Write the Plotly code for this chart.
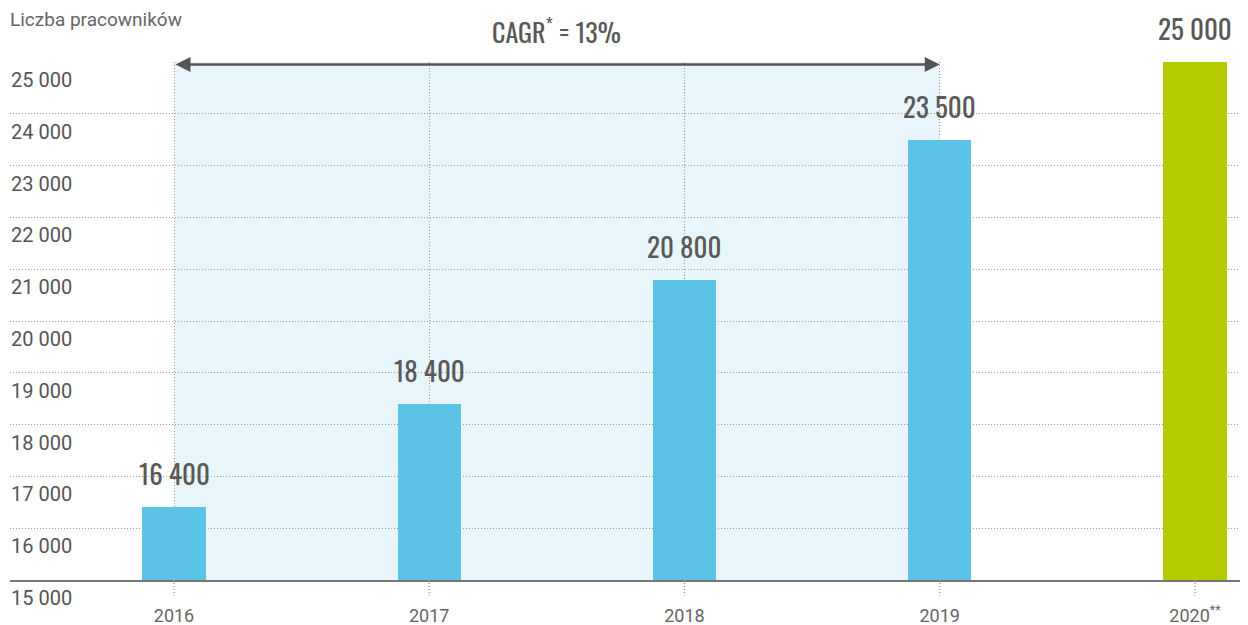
import plotly.graph_objects as go

years = ["2016", "2017", "2018", "2019", "2020**"]
values = [16400, 18400, 20800, 23500, 25000]
bar_colors = ["#5BC3E5", "#5BC3E5", "#5BC3E5", "#5BC3E5", "#B3CB00"]
y_ticks = list(range(15000, 25001, 1000))
y_tick_labels = [f"{v:,}".replace(",", " ") for v in y_ticks]
x_tick_labels = ["2016", "2017", "2018", "2019", "2020<sup>**</sup>"]
cagr_text = "CAGR<sup>*</sup> = 13%"
y_title = "Liczba pracowników"

xs = list(range(len(years)))
TXT = "#595959"
COND = "Oswald, Roboto Condensed, sans-serif"
GRID = "#9a9a9a"
YRANGE = [y_ticks[0], y_ticks[-1]]

fig = go.Figure()
fig.add_trace(go.Bar(x=xs, y=values, marker=dict(color=bar_colors, line=dict(width=0)),
                     width=0.247, hoverinfo="skip"))
# invisible trace carrying the label axis
fig.add_trace(go.Scatter(x=xs, y=values, yaxis="y2", mode="none", hoverinfo="skip"))

# shaded CAGR region (2016 -> 2019)
fig.add_shape(type="rect", xref="x", yref="y", x0=xs[0], x1=xs[3], y0=YRANGE[0], y1=YRANGE[1],
              fillcolor="#E8F6FB", line=dict(width=0), layer="below")

# dotted tick marks below axis
for x in xs:
    fig.add_shape(type="line", xref="x", yref="paper", x0=x, x1=x, y0=0, y1=-0.03,
                  line=dict(color=GRID, width=1.5, dash="1px,2px"))

# bar value labels
for x, v in zip(xs, values):
    fig.add_annotation(x=x, y=v, xref="x", yref="y", text=f"{v:,}".replace(",", " "),
                       showarrow=False, yanchor="bottom", yshift=12,
                       font=dict(family=COND, size=27, color=TXT))

# CAGR arrow
fig.add_annotation(x=xs[3], y=24950, ax=xs[0], ay=24950, xref="x", yref="y", axref="x", ayref="y",
                   text="", showarrow=True, arrowhead=2, startarrowhead=2, arrowside="end+start",
                   arrowsize=1.2, startarrowsize=1.2, arrowwidth=2.5, arrowcolor="#555555")
fig.add_annotation(x=(xs[0] + xs[3]) / 2, y=1, xref="x", yref="paper", yshift=32,
                   text=cagr_text, showarrow=False, yanchor="middle",
                   font=dict(family=COND, size=26, color=TXT))
fig.add_annotation(x=0, y=1, xref="paper", yref="paper", xanchor="left", yanchor="middle",
                   xshift=-2, yshift=43, text=y_title, showarrow=False,
                   font=dict(family="Roboto, sans-serif", size=19, color="#666666"))

fig.update_layout(
    width=1240, height=617,
    margin=dict(l=2, r=0, t=54, b=45),
    plot_bgcolor="white", paper_bgcolor="white",
    showlegend=False,
    bargap=0,
    yaxis2=dict(overlaying="y", side="right", anchor="free", position=0, range=YRANGE,
                tickmode="array", tickvals=y_ticks, ticktext=y_tick_labels,
                showgrid=False, zeroline=False, showline=False, ticks="",
                ticklabelposition="outside", ticklabelshift=18, ticklabelstandoff=0,
                tickfont=dict(family="Roboto, sans-serif", size=20, color="#555555")),
)
fig.update_xaxes(range=[-0.6425, 4.2077], tickmode="array", tickvals=xs, ticktext=x_tick_labels,
                 showgrid=True, gridcolor=GRID, griddash="1px,2px", gridwidth=1,
                 showline=True, linecolor="#777777", linewidth=2, zeroline=False,
                 ticks="", ticklabelstandoff=18,
                 tickfont=dict(family="Roboto, sans-serif", size=18, color="#666666"))
fig.layout.yaxis.update(range=YRANGE, tickmode="array", tickvals=y_ticks,
                        showgrid=True, gridcolor=GRID, griddash="1px,2px", gridwidth=1,
                        zeroline=False, showline=False, ticks="", showticklabels=False)

fig.write_html("out.html")
